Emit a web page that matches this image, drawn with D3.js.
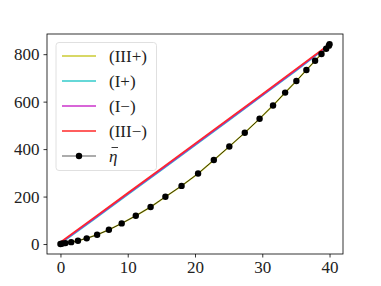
<!DOCTYPE html>
<meta charset="utf-8">
<script src="https://d3js.org/d3.v7.min.js"></script>
<style>
    body { margin: 0; background: #fff; }
    text { font-family: "Liberation Serif", "DejaVu Serif", serif; }
</style>
<div id="base"></div>
<script>
    // mean curve (black points) and its (III+) companion
    var etaX = [0, 0.3, 0.75, 1.6, 2.6, 3.9, 5.45, 7.2, 9.1, 11.2, 13.4, 15.6, 18.0, 20.46,
        22.8, 25.1, 27.4, 29.6, 31.6, 33.4, 35.07, 36.56, 37.85, 38.8, 39.5, 39.9, 40];
    var etaY = [0, 2, 4, 8, 14, 24, 39, 60, 87, 119, 156, 199, 245, 297,
        354, 411, 469, 528, 584, 638, 687, 733, 772, 801, 823, 836, 842];
    var iiiPlusY = [0, 2, 4, 8, 14, 24, 39, 60, 87, 119, 156, 199, 245, 297,
        354, 411, 469, 528, 584, 638, 687, 733, 772, 801, 823, 836, 842];

    // near-straight branches
    var lineX = [0, 5, 10, 15, 20, 25, 30, 35, 40];
    var iPlusY = [2, 104, 208, 312, 416, 520, 625, 730, 839];
    var iMinusY = [5, 107, 211, 315, 419, 523, 628, 733, 840];
    var iiiMinusY = [8, 111, 215, 319, 423, 527, 632, 737, 842];

    var xTicks = [0, 10, 20, 30, 40];
    var yTicks = [0, 200, 400, 600, 800];

    var W = 381, H = 286;
    var padL = 47, padR = 343, padT = 34, padB = 254;

    var svg = d3.select("#base").append("svg")
        .attr("width", W).attr("height", H);

    var x = d3.scaleLinear().domain([-2, 42]).range([padL, padR]);
    var y = d3.scaleLinear().domain([-42, 885]).range([padB, padT]);

    var series = [
        { label: "(III+)", xs: etaX, ys: iiiPlusY, color: "rgba(191,191,0,0.8)" },
        { label: "(I+)", xs: lineX, ys: iPlusY, color: "rgba(0,191,191,0.8)" },
        { label: "(I\u2212)", xs: lineX, ys: iMinusY, color: "rgba(191,0,191,0.8)" },
        { label: "(III\u2212)", xs: lineX, ys: iiiMinusY, color: "rgb(255,40,40)" }
    ];

    var line = d3.line()
        .x(function (d) { return x(d[0]); })
        .y(function (d) { return y(d[1]); });

    var plot = svg.append("g");
    series.forEach(function (s) {
        plot.append("path")
            .datum(s.xs.map(function (v, i) { return [v, s.ys[i]]; }))
            .attr("fill", "none")
            .attr("stroke", s.color)
            .attr("stroke-width", 1.6)
            .attr("d", line);
    });

    var etaPts = etaX.map(function (v, i) { return [v, etaY[i]]; });
    plot.append("path")
        .datum(etaPts)
        .attr("fill", "none")
        .attr("stroke", "rgba(0,0,0,0.75)")
        .attr("stroke-width", 1)
        .attr("d", line);
    plot.selectAll("circle.eta")
        .data(etaPts)
        .enter().append("circle")
        .attr("class", "eta")
        .attr("cx", function (d) { return x(d[0]); })
        .attr("cy", function (d) { return y(d[1]); })
        .attr("r", 3.2)
        .attr("fill", "#000");

    // axes
    var xAxis = svg.append("g")
        .attr("transform", "translate(0," + padB + ")")
        .call(d3.axisBottom(x).tickValues(xTicks).tickSize(3.5).tickPadding(3));
    var yAxis = svg.append("g")
        .attr("transform", "translate(" + padL + ",0)")
        .call(d3.axisLeft(y).tickValues(yTicks).tickSize(3.5).tickPadding(4));
    [xAxis, yAxis].forEach(function (a) {
        a.select(".domain").remove();
        a.selectAll("line").attr("stroke", "#000").attr("stroke-width", 0.8);
        a.selectAll("text").attr("font-size", 17).attr("fill", "#222")
            .style("font-family", "'Liberation Serif', serif");
    });

    svg.append("rect")
        .attr("x", padL).attr("y", padT)
        .attr("width", padR - padL).attr("height", padB - padT)
        .attr("fill", "none").attr("stroke", "#000").attr("stroke-width", 0.8);

    // legend
    var legend = svg.append("g");
    legend.append("rect")
        .attr("x", 56).attr("y", 42.5)
        .attr("width", 100.5).attr("height", 128)
        .attr("rx", 3)
        .attr("fill", "rgba(255,255,255,0.8)")
        .attr("stroke", "#d8d8d8").attr("stroke-width", 0.8);

    var items = series.map(function (s) { return { label: s.label, color: s.color }; });
    items.push({ label: "\u03b7", color: "rgba(0,0,0,0.65)", marker: true });

    items.forEach(function (it, i) {
        var cy = 56 + i * 25;
        legend.append("line")
            .attr("x1", 62).attr("x2", 96).attr("y1", cy).attr("y2", cy)
            .attr("stroke", it.color).attr("stroke-width", it.marker ? 1.2 : 1.6);
        if (it.marker) {
            legend.append("circle").attr("cx", 79).attr("cy", cy).attr("r", 3.2).attr("fill", "#000");
            // bar over eta
            legend.append("line")
                .attr("x1", 111.5).attr("x2", 118).attr("y1", cy - 8.5).attr("y2", cy - 8.5)
                .attr("stroke", "#222").attr("stroke-width", 0.9);
        }
        legend.append("text")
            .attr("x", 109).attr("y", cy + 5.5)
            .attr("font-size", 17)
            .attr("fill", "#222")
            .attr("font-style", it.marker ? "italic" : "normal")
            .text(it.label);
    });
</script>
